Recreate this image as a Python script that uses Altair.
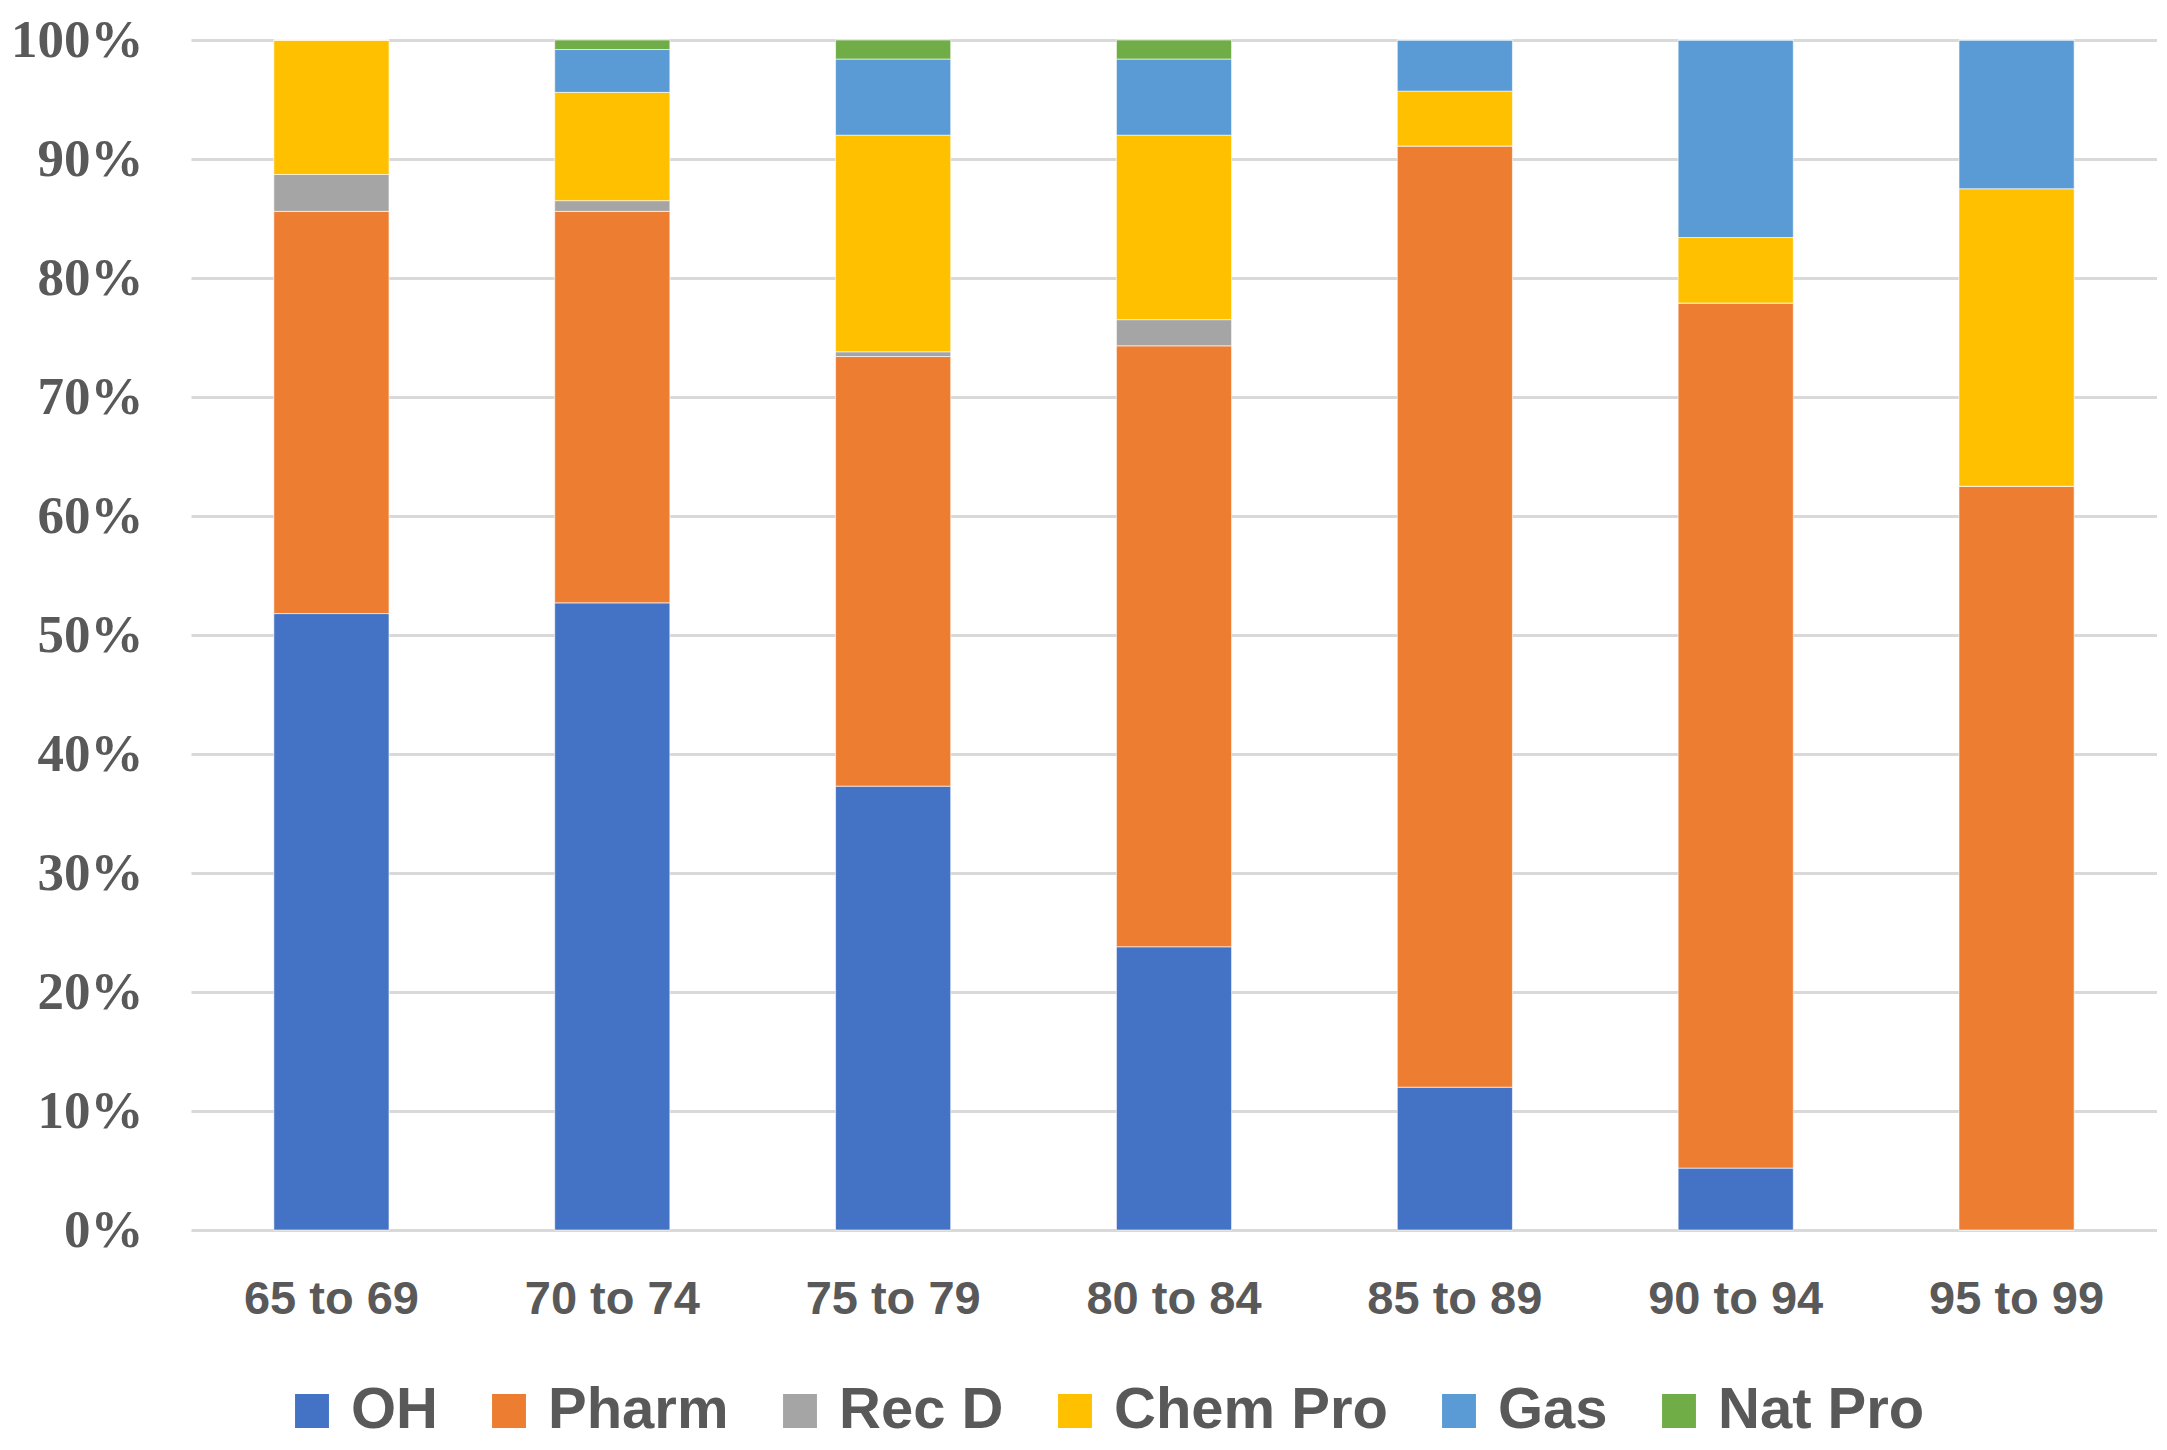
import altair as alt
import pandas as pd

groups = ["65 to 69", "70 to 74", "75 to 79", "80 to 84", "85 to 89", "90 to 94", "95 to 99"]
series = ["OH", "Pharm", "Rec D", "Chem Pro", "Gas", "Nat Pro"]
colors = ["#4472C4", "#ED7D31", "#A5A5A5", "#FFC000", "#5B9BD5", "#70AD47"]

oh      = [51.8, 52.7, 37.3, 23.8, 12.0, 5.2, 0.0]
pharm   = [33.8, 32.9, 36.1, 50.5, 79.1, 72.7, 62.5]
rec_d   = [3.1, 0.9, 0.4, 2.2, 0.0, 0.0, 0.0]
chem    = [11.3, 9.1, 18.2, 15.5, 4.6, 5.5, 25.0]
gas     = [0.0, 3.6, 6.4, 6.4, 4.3, 16.6, 12.5]
nat_pro = [0.0, 0.8, 1.6, 1.6, 0.0, 0.0, 0.0]

values = [oh, pharm, rec_d, chem, gas, nat_pro]
rows = []
for si, (name, vals) in enumerate(zip(series, values)):
    for g, v in zip(groups, vals):
        rows.append({"group": g, "series": name, "value": v, "order": si})
df = pd.DataFrame(rows)

chart = alt.Chart(df).mark_bar(stroke="white", strokeWidth=1, strokeOpacity=0.6).encode(
    x=alt.X("group:N", sort=groups, title=None,
            scale=alt.Scale(paddingInner=0.59, paddingOuter=0.295),
            axis=alt.Axis(labelAngle=0, labelFont="Liberation Sans", labelFontWeight="bold",
                          labelFontSize=47, labelColor="#595959", labelPadding=46,
                          ticks=False, domain=False)),
    y=alt.Y("value:Q", stack="zero", title=None,
            scale=alt.Scale(domain=[0, 100], nice=False),
            axis=alt.Axis(values=list(range(0, 101, 10)), labelExpr="datum.value + '%'",
                          labelFont="Liberation Serif", labelFontWeight="bold",
                          labelFontSize=53, labelColor="#595959", labelPadding=48,
                          ticks=False, domain=False, grid=True, gridColor="#D9D9D9",
                          gridWidth=3)),
    color=alt.Color("series:N", sort=series,
                    scale=alt.Scale(domain=series, range=colors),
                    legend=alt.Legend(title=None, orient="none", direction="horizontal",
                                      legendX=92, legendY=1342,
                                      symbolType="square", symbolSize=1150,
                                      symbolStrokeWidth=0,
                                      labelFont="Liberation Sans", labelFontWeight="bold",
                                      labelFontSize=58, labelColor="#595959",
                                      columnPadding=42, labelOffset=10,
                                      labelLimit=400)),
    order=alt.Order("order:Q", sort="ascending"),
).properties(
    width=1966, height=1190,
    padding={"left": 2, "top": 6, "right": 0, "bottom": 0},
).configure_view(stroke=None)

chart.save("out.html", embed_options={"renderer": "svg", "actions": False})
